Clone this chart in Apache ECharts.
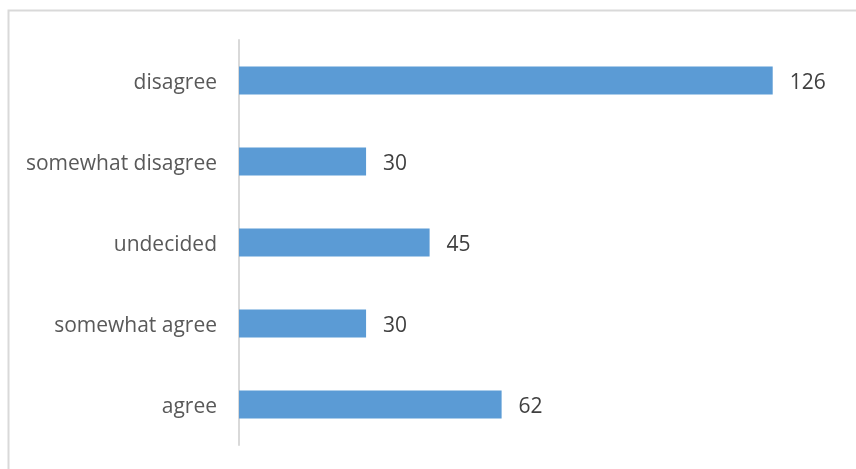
<!DOCTYPE html>
<html>
<head>
<meta charset="utf-8">
<script src="https://cdn.jsdelivr.net/npm/echarts@6/dist/echarts.min.js"></script>
<style>
  html, body { margin: 0; padding: 0; background: #ffffff; }
  #chart { width: 856px; height: 469px; }
</style>
</head>
<body>
<div id="chart"></div>
<script>
// Survey responses, listed bottom to top as drawn on the category axis
const categories = ['agree', 'somewhat agree', 'undecided', 'somewhat disagree', 'disagree'];
const counts = [62, 30, 45, 30, 126];

const chart = echarts.init(document.getElementById('chart'), null, { renderer: 'canvas' });

chart.setOption({
  animation: false,
  backgroundColor: '#ffffff',
  textStyle: { fontFamily: 'Open Sans' },
  graphic: [{
    type: 'rect',
    shape: { x: 8.5, y: 10.5, width: 900, height: 500 },
    style: { fill: 'none', stroke: '#d9d9d9', lineWidth: 2 },
    silent: true
  }],
  grid: { left: 239, right: 24, top: 40, bottom: 24, containLabel: false },
  xAxis: {
    type: 'value',
    min: 0,
    max: 140,
    show: false
  },
  yAxis: {
    type: 'category',
    data: categories,
    axisLine: { show: true, lineStyle: { color: '#d9d9d9', width: 2 } },
    axisTick: { show: false },
    axisLabel: {
      color: '#595959',
      fontSize: 21,
      margin: 22,
      fontFamily: 'Open Sans',
      formatter: '{t|{value}}',
      rich: {
        t: { color: '#595959', fontSize: 21, fontFamily: 'Open Sans', padding: [5, 0, 0, 0] }
      }
    },
    splitLine: { show: false }
  },
  series: [{
    type: 'bar',
    data: counts,
    barWidth: 28,
    itemStyle: { color: '#5b9bd5' },
    label: {
      show: true,
      position: 'right',
      distance: 17,
      offset: [0, 3],
      color: '#404040',
      fontSize: 21,
      fontFamily: 'Open Sans'
    }
  }]
});
</script>
</body>
</html>
